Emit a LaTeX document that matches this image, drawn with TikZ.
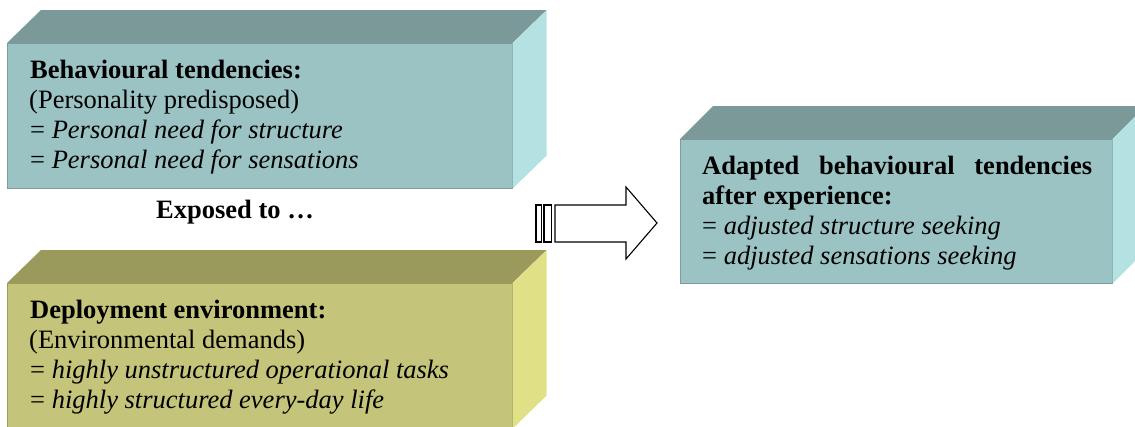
\documentclass[tikz,border=0pt]{standalone}
\usepackage{fontspec}
\setmainfont{Liberation Serif}
\begin{document}
\begin{tikzpicture}[x=1pt,y={(0pt,-1pt)},
  front/.style={anchor=north west, minimum width=505pt, minimum height=145pt, inner sep=0pt, draw=#1!80!black, line width=0.6pt},
  txt/.style={anchor=base west, inner sep=0pt, font=\fontsize{26.5}{30}\selectfont},
  blockarrow/.style={draw=black, fill=white, line width=1.1pt, line join=miter}]
\definecolor{tealF}{HTML}{9CC3C4}
\definecolor{tealT}{HTML}{7A9998}
\definecolor{tealR}{HTML}{B4E2E3}
\definecolor{oliveF}{HTML}{C4C47A}
\definecolor{oliveT}{HTML}{9A9A5C}
\definecolor{oliveR}{HTML}{E0E087}
\useasboundingbox (0,0) rectangle (1135,426);
\clip (0,0) rectangle (1135,426);

% Box 1
\node[front=tealF, fill=tealF] (f1) at (7,43) {};
\fill[tealT] (f1.north west) -- ++(34,-33) -- ([xshift=34pt,yshift=33pt]f1.north east) -- (f1.north east) -- cycle;
\fill[tealR] (f1.north east) -- ++(34,-33) -- ([xshift=34pt,yshift=33pt]f1.south east) -- (f1.south east) -- cycle;

% Box 3
\node[front=oliveF, fill=oliveF] (f3) at (7,283) {};
\fill[oliveT] (f3.north west) -- ++(34,-33) -- ([xshift=34pt,yshift=33pt]f3.north east) -- (f3.north east) -- cycle;
\fill[oliveR] (f3.north east) -- ++(34,-33) -- ([xshift=34pt,yshift=33pt]f3.south east) -- (f3.south east) -- cycle;

% Box 2
\node[front=tealF, fill=tealF, minimum width=432pt, minimum height=144pt] (f2) at (680,139) {};
\fill[tealT] (f2.north west) -- ++(33,-33) -- ([xshift=33pt,yshift=33pt]f2.north east) -- (f2.north east) -- cycle;
\fill[tealR] (f2.north east) -- ++(33,-33) -- ([xshift=33pt,yshift=33pt]f2.south east) -- (f2.south east) -- cycle;

% Texts box 1
\node[txt] (t11) at (30,78) {\textbf{Behavioural tendencies:}};
\node[txt] (t12) at (29,108) {(Personality predisposed)};
\node[txt] (t13) at (30,138) {= \textit{Personal need for structure}};
\node[txt] (t14) at (30,168) {= \textit{Personal need for sensations}};

% Exposed to
\node[anchor=base, inner sep=0pt, font=\fontsize{26.5}{30}\selectfont\bfseries] (exp) at (235,218) {Exposed to …};

% Texts box 3
\node[txt] (t31) at (30,318) {\textbf{Deployment environment:}};
\node[txt] (t32) at (29,348) {(Environmental demands)};
\node[txt] (t33) at (30,378) {= \textit{highly unstructured operational tasks}};
\node[txt] (t34) at (30,408) {= \textit{highly structured every-day life}};

% Texts box 2
\node[txt] (t21) at (702,174) {\hbox to 390pt{\bfseries Adapted\hfill behavioural\hfill tendencies}};
\node[txt] (t22) at (702,204) {\textbf{after experience:}};
\node[txt] (t23) at (702,234) {= \textit{adjusted structure seeking}};
\node[txt] (t24) at (702,264) {= \textit{adjusted sensations seeking}};

% Block arrow
\draw[blockarrow] (536,205) rectangle (541.5,242);
\draw[blockarrow] (544,205) rectangle (551.5,242);
\draw[blockarrow] (555,205) -- (626,205) -- (626,187) -- (657,223) -- (626,259) -- (626,242) -- (555,242) -- cycle;
\end{tikzpicture}
\end{document}
